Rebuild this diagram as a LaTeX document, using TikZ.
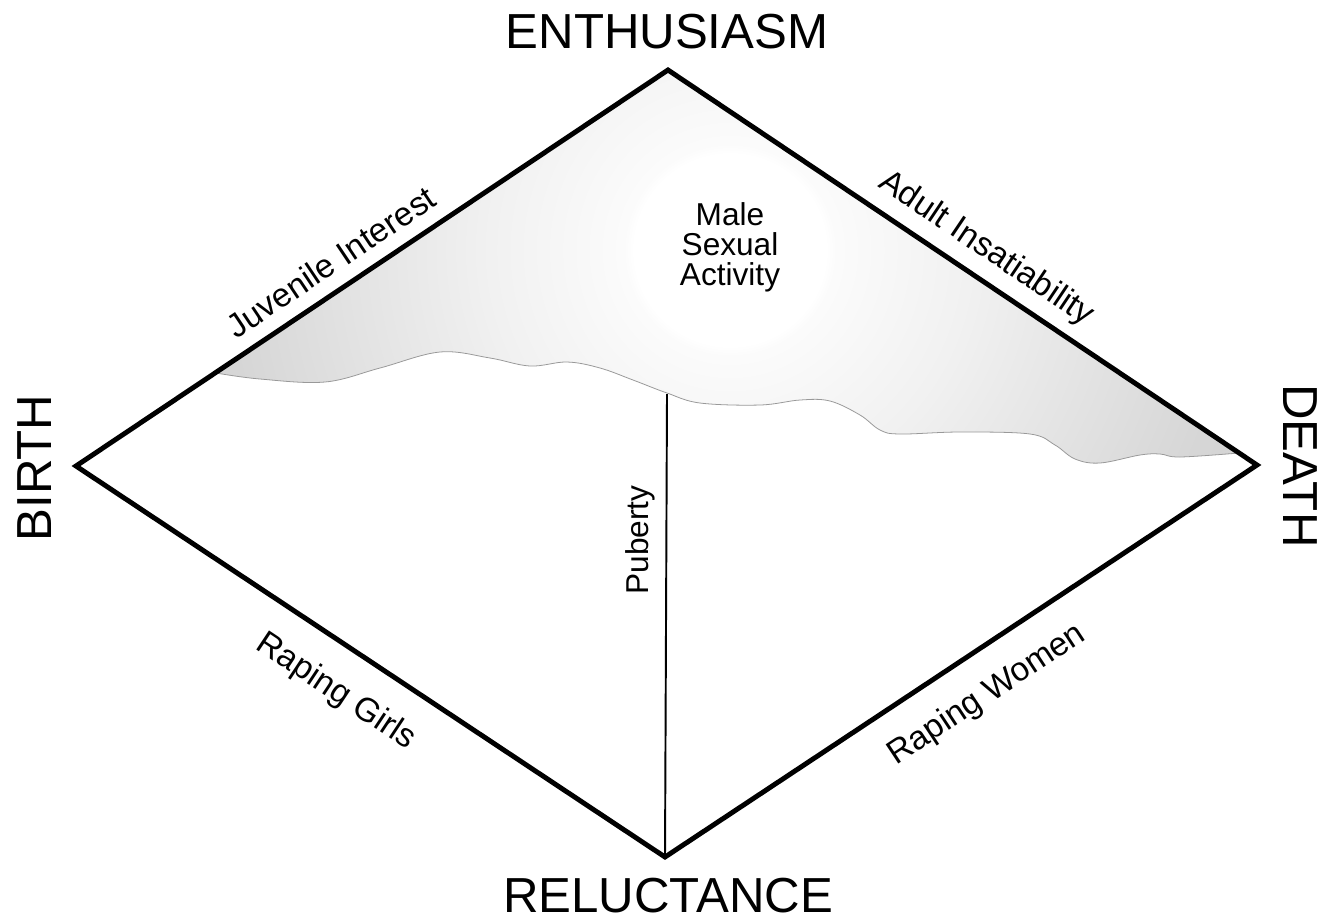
\documentclass[tikz,border=0pt]{standalone}
\usepackage{fontspec}
\setmainfont{Liberation Sans}
\usetikzlibrary{positioning}

\pgfdeclareradialshading{actshade}{\pgfpoint{0bp}{0bp}}{color(0bp)=(white); color(4bp)=(white);
  color(4.4bp)=(gray!3); color(10bp)=(gray!11); color(21bp)=(gray!32); color(25bp)=(gray!35);
  color(50bp)=(gray!35)}

\begin{document}
\begin{tikzpicture}[x=0.02cm,y=-0.02cm,
  rim/.style={line width=2.8pt,line join=miter},
  waveline/.style={draw=gray!80,line width=0.45pt},
  publine/.style={line width=1.1pt},
  biglbl/.style={inner sep=0pt,font=\fontsize{28}{32}\selectfont},
  edgelbl/.style={inner sep=0pt,font=\fontsize{19}{22}\selectfont},
  midlbl/.style={inner sep=0pt,align=center,font=\fontsize{18}{17}\selectfont}]
  \useasboundingbox (0,0) rectangle (1331,921);
  \coordinate (enth) at (668,70);
  \coordinate (birth) at (76,466);
  \coordinate (death) at (1257,465);
  \coordinate (reluc) at (665,857);
  \coordinate (pubtop) at (667,394);
  % shaded region above the wavy curve
  \path[save path=\actregion] plot[smooth,tension=0.6] coordinates {(216,373) (260,379) (325,382)
    (380,368) (440,352) (490,358) (530,366) (567,362) (600,368) (633,380) (667,393) (700,403)
    (760,405) (800,400) (830,401) (860,415) (880,430) (900,434) (960,432) (1030,434) (1055,445)
    (1075,459) (1100,463) (1140,455) (1160,454) (1180,457) (1239,453)} -- (enth) -- cycle;
  \begin{scope}
    \clip[use path=\actregion];
    \shade[shading=actshade] (730,250) circle (600);
  \end{scope}
  \draw[waveline,use path=\actregion];
  \draw[publine] (pubtop) -- (reluc);
  \draw[rim] (enth) -- (death) -- (reluc) -- (birth) -- cycle;
  \node[biglbl] (enthlbl) at (667,32) {ENTHUSIASM};
  \node[biglbl] (reluclbl) at (668,896) {RELUCTANCE};
  \node[biglbl,rotate=90] (birthlbl) at (35,468) {BIRTH};
  \node[biglbl,rotate=-90] (deathlbl) at (1300,466) {DEATH};
  \node[edgelbl,rotate=33.8] (juvlbl) at (331,262) {Juvenile Interest};
  \node[edgelbl,rotate=-33.9] (adultlbl) at (986,249) {Adult Insatiability};
  \node[edgelbl,rotate=-33.6] (girlslbl) at (336,692) {Raping Girls};
  \node[edgelbl,rotate=33.5] (womenlbl) at (987,695) {Raping Women};
  \node[midlbl,rotate=90] (publbl) at (640,540) {Puberty};
  \node[midlbl] (actlbl) at (730,247) {Male\\Sexual\\Activity};
\end{tikzpicture}
\end{document}
